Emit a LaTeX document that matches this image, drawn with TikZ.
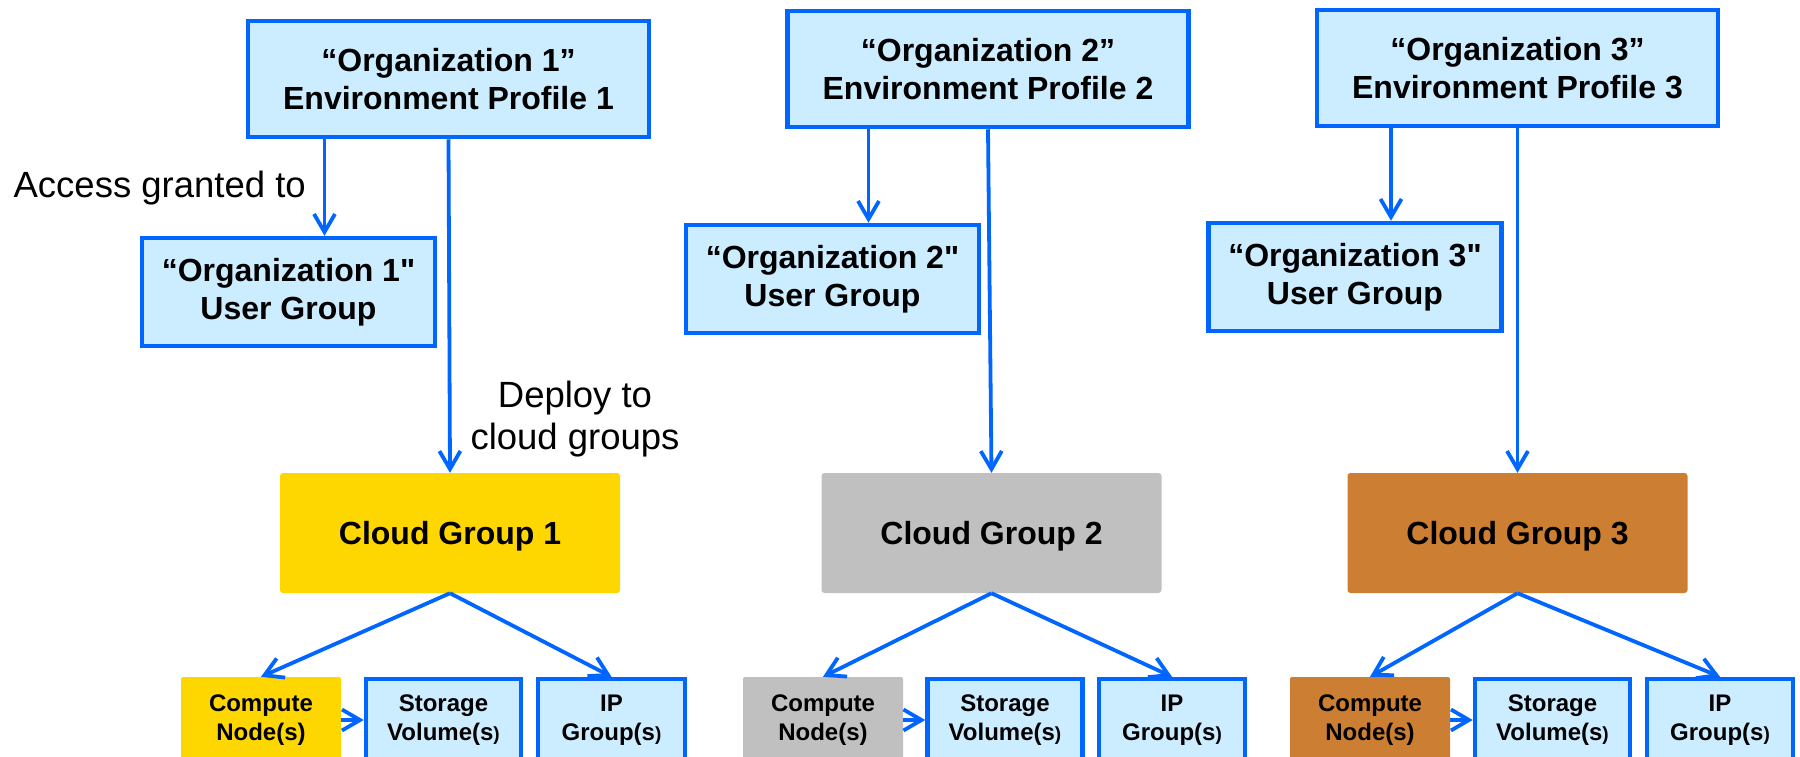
\documentclass[tikz,border=0pt]{standalone}
\usepackage{fontspec}
\setmainfont{Liberation Sans}
\usetikzlibrary{arrows.meta}
\definecolor{edgeblue}{HTML}{0066FF}
\definecolor{paleblue}{HTML}{CCECFF}
\definecolor{cgyellow}{HTML}{FFD700}
\definecolor{cggray}{HTML}{C0C0C0}
\definecolor{cgorange}{HTML}{CC7F32}
\newcommand{\smallparen}{{\fontsize{19}{29}\selectfont)}}

\begin{document}
\begin{tikzpicture}[x=1pt,y=-1pt,
  bluebox/.style={draw=edgeblue, line width=4.5pt, fill=paleblue, align=center,
    inner sep=0pt, font=\bfseries\fontsize{32}{38}\selectfont},
  profile/.style={bluebox, minimum width=401pt, minimum height=116pt},
  usergroup/.style={bluebox, minimum width=293pt, minimum height=108pt},
  cloudbox/.style={rounded corners=3pt, minimum width=340pt, minimum height=120pt,
    inner sep=0pt, text depth=0pt, font=\bfseries\fontsize{32}{38}\selectfont},
  resbox/.style={bluebox, minimum width=155pt, minimum height=82pt,
    font=\bfseries\fontsize{24}{29}\selectfont},
  computebox/.style={rounded corners=2pt, minimum width=160pt, minimum height=86pt,
    inner sep=0pt, align=center, font=\bfseries\fontsize{24}{29}\selectfont},
  lbl/.style={align=center, inner sep=0pt, font=\fontsize{36.5}{42}\selectfont},
  arr/.style={draw=edgeblue, line width=3.8pt,
    -{Straight Barb[length=18pt,width=21pt]}}
]
\useasboundingbox (0,0) rectangle (1800,756);
\clip (0,0) rectangle (1800,756);

% environment profiles
\node[profile] (ep1) at (448.5,79) {“Organization 1”\\Environment Profile 1};
\node[profile] (ep2) at (988,69) {“Organization 2”\\Environment Profile 2};
\node[profile] (ep3) at (1517.5,68) {“Organization 3”\\Environment Profile 3};

% user groups
\node[usergroup] (ug1) at (288.5,292) {“Organization 1\textquotedbl\\User Group};
\node[usergroup] (ug2) at (832.5,279) {“Organization 2\textquotedbl\\User Group};
\node[usergroup] (ug3) at (1355,277) {“Organization 3\textquotedbl\\User Group};

% cloud groups
\node[cloudbox, fill=cgyellow] (cg1) at (450,533) {Cloud Group 1};
\node[cloudbox, fill=cggray] (cg2) at (991.5,533) {Cloud Group 2};
\node[cloudbox, fill=cgorange] (cg3) at (1517.5,533) {Cloud Group 3};

% resources of each cloud group
\node[computebox, fill=cgyellow] (cn1) at (261,720) {Compute\\Node(s)};
\node[resbox] (sv1) at (443.5,720) {Storage\\Volume(s\smallparen};
\node[resbox, minimum width=147pt] (ip1) at (611.5,720) {IP\\Group(s\smallparen};

\node[computebox, fill=cggray] (cn2) at (823,720) {Compute\\Node(s)};
\node[resbox] (sv2) at (1005,720) {Storage\\Volume(s\smallparen};
\node[resbox, minimum width=146pt] (ip2) at (1172,720) {IP\\Group(s\smallparen};

\node[computebox, fill=cgorange] (cn3) at (1370,720) {Compute\\Node(s)};
\node[resbox] (sv3) at (1552.5,720) {Storage\\Volume(s\smallparen};
\node[resbox, minimum width=146pt] (ip3) at (1720,720) {IP\\Group(s\smallparen};

% labels
\node[lbl, anchor=base east] (acc) at (306,197) {Access granted to};
\node[lbl] (dep) at (575,419.5) {Deploy to\\cloud groups};

% access and deployment arrows
\foreach \i in {1,2,3} {
  \coordinate (ugin\i) at ([xshift=36pt]ug\i.north);
  \draw[arr] (ep\i.south -| ugin\i) -- (ugin\i);
  \draw[arr] (ep\i.south) -- (cg\i.north);
  \draw[arr] (cg\i.south) -- (cn\i.north);
  \draw[arr] (cg\i.south) -- (ip\i.north);
  \draw[arr] (cn\i.east) -- (sv\i.west);
}
\end{tikzpicture}
\end{document}
